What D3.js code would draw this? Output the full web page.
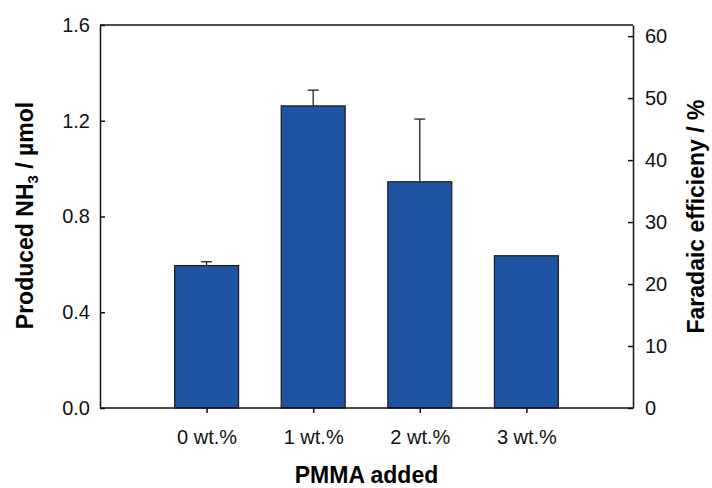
<!DOCTYPE html>
<html>
<head>
<meta charset="utf-8">
<script src="https://cdn.jsdelivr.net/npm/d3@7"></script>
<style>
  html, body { margin: 0; padding: 0; background: #fff; }
  svg { display: block; font-family: "Liberation Sans", Arial, sans-serif; }
</style>
</head>
<body>
<svg id="chart" width="712" height="488"></svg>
<script>
// PMMA loading on the x axis, produced NH3 (µmol) on the left axis
const categories = ["0 wt.%", "1 wt.%", "2 wt.%", "3 wt.%"];
const nh3Values = [0.595, 1.262, 0.945, 0.636];
const nh3Errors = [0.016, 0.066, 0.262, 0];
const leftTicks = [0.0, 0.4, 0.8, 1.2, 1.6];
const rightTicks = [0, 10, 20, 30, 40, 50, 60];

const svg = d3.select("#chart");
const plot = { left: 100, right: 633, top: 25, bottom: 408 };

const x = d3.scalePoint()
  .domain(categories)
  .range([plot.left, plot.right])
  .padding(1);
const barWidth = x.step() * 0.6;

const y = d3.scaleLinear().domain([0, 1.6]).range([plot.bottom, plot.top]);
const yRight = d3.scaleLinear().domain([0, 61.8]).range([plot.bottom, plot.top]);

// bars
svg.append("g")
  .selectAll("rect")
  .data(nh3Values)
  .join("rect")
  .attr("x", (d, i) => x(categories[i]) - barWidth / 2)
  .attr("y", d => y(d))
  .attr("width", barWidth)
  .attr("height", d => y(0) - y(d))
  .attr("fill", "#1f54a3")
  .attr("stroke", "#1b1b1b")
  .attr("stroke-width", 1.2);

// upper error bars
const err = svg.append("g").attr("stroke", "#222").attr("stroke-width", 1.3);
nh3Values.forEach((v, i) => {
  if (!nh3Errors[i]) return;
  const cx = x(categories[i]);
  err.append("line")
    .attr("x1", cx).attr("x2", cx)
    .attr("y1", y(v)).attr("y2", y(v + nh3Errors[i]));
  err.append("line")
    .attr("x1", cx - 5.5).attr("x2", cx + 5.5)
    .attr("y1", y(v + nh3Errors[i])).attr("y2", y(v + nh3Errors[i]));
});

// frame top line
svg.append("line")
  .attr("x1", plot.left).attr("x2", plot.right)
  .attr("y1", plot.top).attr("y2", plot.top)
  .attr("stroke", "#111").attr("stroke-width", 1.5);

function styleAxis(g) {
  g.select(".domain").attr("stroke", "#111").attr("stroke-width", 1.5);
  g.selectAll(".tick line").attr("stroke", "#111").attr("stroke-width", 1.5);
  g.selectAll(".tick text")
    .attr("fill", "#111")
    .style("font-size", "20px")
    .style("font-family", "'Liberation Sans', Arial, sans-serif");
}

// left axis, ticks pointing inward
svg.append("g")
  .attr("transform", `translate(${plot.left},0)`)
  .call(d3.axisLeft(y).tickValues(leftTicks).tickFormat(d3.format(".1f"))
    .tickSizeInner(-5).tickSizeOuter(0).tickPadding(10))
  .call(styleAxis);

// right axis (Faradaic efficiency), ticks pointing inward
svg.append("g")
  .attr("transform", `translate(${plot.right},0)`)
  .call(d3.axisRight(yRight).tickValues(rightTicks).tickFormat(d3.format("d"))
    .tickSizeInner(-5).tickSizeOuter(0).tickPadding(12))
  .call(styleAxis);

// bottom axis, ticks pointing outward
svg.append("g")
  .attr("transform", `translate(0,${plot.bottom})`)
  .call(d3.axisBottom(x).tickSizeInner(5).tickSizeOuter(0).tickPadding(17))
  .call(styleAxis)
  .call(g => g.select(".domain").attr("d", `M${plot.left},0H${plot.right}`));

// axis titles
svg.append("text")
  .attr("x", (plot.left + plot.right) / 2)
  .attr("y", 483)
  .attr("text-anchor", "middle")
  .style("font-size", "23px")
  .style("font-weight", "bold")
  .text("PMMA added");

const leftTitle = svg.append("text")
  .attr("transform", `translate(33,${(plot.top + plot.bottom) / 2 - 1}) rotate(-90)`)
  .attr("text-anchor", "middle")
  .style("font-size", "23px")
  .style("font-weight", "bold");
leftTitle.append("tspan").text("Produced NH");
leftTitle.append("tspan").attr("dy", 5).style("font-size", "15px").text("3");
leftTitle.append("tspan").attr("dy", -5).text(" / µmol");

svg.append("text")
  .attr("transform", `translate(704,${(plot.top + plot.bottom) / 2}) rotate(-90)`)
  .attr("text-anchor", "middle")
  .style("font-size", "23px")
  .style("font-weight", "bold")
  .text("Faradaic efficieny / %");
</script>
</body>
</html>
